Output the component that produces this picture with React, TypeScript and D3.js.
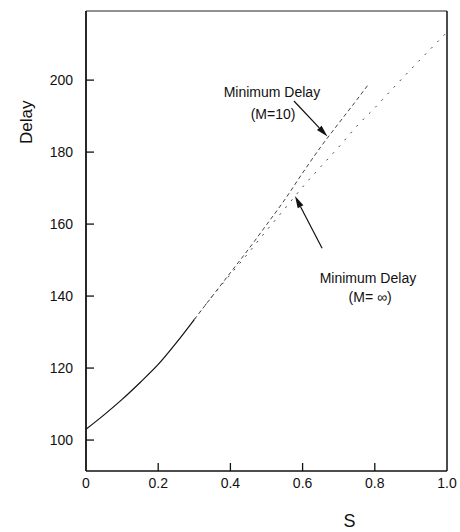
import * as d3 from "d3";

// values
const sharedS = [0, 0.05, 0.1, 0.15, 0.2, 0.25, 0.3];
const sharedDelay = [103, 107, 111.3, 116, 121, 127, 133.5];

const m10S = [0.3, 0.35, 0.4, 0.45, 0.5, 0.55, 0.6, 0.65, 0.7, 0.75, 0.78];
const m10Delay = [133.5, 140, 146.5, 153, 159.8, 166.7, 174.2, 181.4, 188, 194.5, 198.5];

const mInfS = [0.3, 0.35, 0.4, 0.45, 0.5, 0.55, 0.6, 0.65, 0.7, 0.75, 0.8, 0.85, 0.9, 0.95, 1.0];
const mInfDelay = [133.5, 140, 146, 152, 158.2, 164.2, 170.3, 175.9, 181.4, 187.2, 192.3, 197.7, 203, 208.2, 213.3];

const xTicks = [0, 0.2, 0.4, 0.6, 0.8, 1.0];
const yTicks = [100, 120, 140, 160, 180, 200];

const W = 460;
const H = 532;
const FONT = "'Liberation Sans', Arial, Helvetica, sans-serif";

type Pt = [number, number];

const x = d3.scaleLinear().domain([0, 1]).range([86, 447]);
const y = d3.scaleLinear().domain([91.4, 219.2]).range([471, 11]);

const line = d3
  .line<Pt>()
  .x((d) => x(d[0]))
  .y((d) => y(d[1]))
  .curve(d3.curveMonotoneX);

const zip = (a: number[], b: number[]): Pt[] => a.map((v, i) => [v, b[i]]);

// annotation arrows, in data units: [tail, tip]
const arrows: [Pt, Pt][] = [
  [[0.576, 194.2], [0.669, 184.3]],
  [[0.654, 153.3], [0.579, 167.8]],
];

function Arrow({ from, to }: { from: Pt; to: Pt }) {
  const x1 = x(from[0]), y1 = y(from[1]);
  const x2 = x(to[0]), y2 = y(to[1]);
  const len = Math.hypot(x2 - x1, y2 - y1);
  const ux = (x2 - x1) / len, uy = (y2 - y1) / len;
  const hl = 12, hw = 3.2;
  const bx = x2 - ux * hl, by = y2 - uy * hl;
  const pts = [
    [x2, y2],
    [bx - uy * hw, by + ux * hw],
    [bx + uy * hw, by - ux * hw],
  ]
    .map((p) => p.join(","))
    .join(" ");
  return (
    <g>
      <line x1={x1} y1={y1} x2={bx} y2={by} stroke="#111" strokeWidth={1.2} />
      <polygon points={pts} fill="#111" />
    </g>
  );
}

export default function App() {
  const [x0, x1] = x.range();
  const [y0, y1] = y.range();
  return (
    <svg
      width={W}
      height={H}
      style={{ position: "absolute", left: 0, top: 0, background: "#fff" }}
      fontFamily={FONT}
    >
      <rect width={W} height={H} fill="#fff" />

      {/* frame */}
      <line x1={x0} y1={y1} x2={x1} y2={y1} stroke="#222" strokeWidth={1} />
      <line x1={x1} y1={y1} x2={x1} y2={y0} stroke="#111" strokeWidth={1.5} />
      <line x1={x0} y1={y0} x2={x1} y2={y0} stroke="#111" strokeWidth={1.5} />
      <line x1={x0} y1={y1} x2={x0} y2={y0} stroke="#111" strokeWidth={1.8} />

      {/* y ticks */}
      {yTicks.map((t) => (
        <g key={t}>
          <line x1={x0} x2={x0 + 8} y1={y(t)} y2={y(t)} stroke="#111" strokeWidth={1.3} />
          <text x={x0 - 13} y={y(t)} dy="0.36em" textAnchor="end" fontSize={14} fill="#111">
            {t}
          </text>
        </g>
      ))}

      {/* x ticks */}
      {xTicks.map((t) => (
        <g key={t}>
          {t > 0 && t < 1 && (
            <line x1={x(t)} x2={x(t)} y1={y0} y2={y0 - 8} stroke="#111" strokeWidth={1.3} />
          )}
          <text x={x(t)} y={y0 + 17} textAnchor="middle" fontSize={14} fill="#111">
            {t === 0 ? "0" : t.toFixed(1)}
          </text>
        </g>
      ))}

      {/* axis titles */}
      <text
        transform={`translate(32,${y(188.3)}) rotate(-90)`}
        textAnchor="middle"
        fontSize={17}
        fill="#111"
      >
        Delay
      </text>
      <text x={x(0.73)} y={527} textAnchor="middle" fontSize={18} fill="#111">
        S
      </text>

      {/* curves */}
      <path d={line(zip(sharedS, sharedDelay)) || ""} fill="none" stroke="#111" strokeWidth={1.2} />
      <path
        d={line(zip(m10S, m10Delay)) || ""}
        fill="none"
        stroke="#444"
        strokeWidth={1}
        strokeDasharray="4,3"
      />
      <path
        d={line(zip(mInfS, mInfDelay)) || ""}
        fill="none"
        stroke="#444"
        strokeWidth={1}
        strokeDasharray="2,7"
      />

      {/* annotations */}
      <text x={x(0.515)} y={y(196.7)} dy="0.36em" textAnchor="middle" fontSize={14} fill="#111">
        Minimum Delay
      </text>
      <text x={x(0.518)} y={y(190.6)} dy="0.36em" textAnchor="middle" fontSize={14} fill="#111">
        (M=10)
      </text>
      <text x={x(0.781)} y={y(145)} dy="0.36em" textAnchor="middle" fontSize={14} fill="#111">
        Minimum Delay
      </text>
      <text x={x(0.787)} y={y(139.7)} dy="0.36em" textAnchor="middle" fontSize={14} fill="#111">
        (M= ∞)
      </text>
      {arrows.map((a, i) => (
        <Arrow key={i} from={a[0]} to={a[1]} />
      ))}
    </svg>
  );
}
